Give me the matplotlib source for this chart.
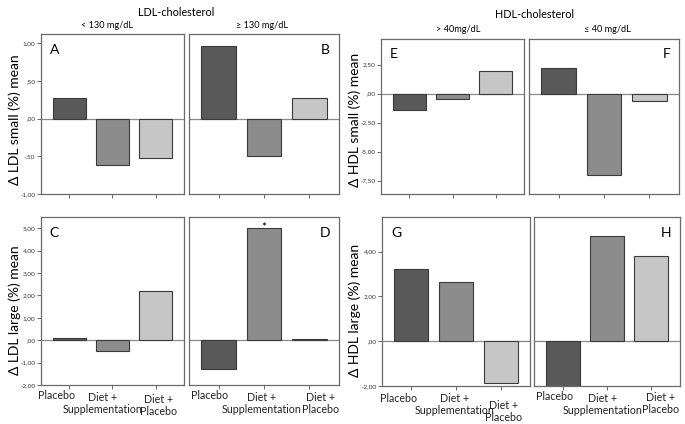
import matplotlib
matplotlib.use("Agg")
import matplotlib.pyplot as plt
from matplotlib.transforms import ScaledTranslation

plt.rcParams['font.family'] = ['Lato', 'DejaVu Sans']

groups = ["Placebo", "Diet +\nSupplementation", "Diet +\nPlacebo"]
colors = ["#595959", "#8c8c8c", "#c6c6c6"]

# values
ldl_small_lt130 = [0.27, -0.62, -0.52]
ldl_small_ge130 = [0.96, -0.49, 0.27]
ldl_large_lt130 = [0.10, -0.49, 2.18]
ldl_large_ge130 = [-1.27, 5.00, 0.07]
hdl_small_gt40 = [-1.38, -0.43, 1.93]
hdl_small_le40 = [2.19, -7.03, -0.66]
hdl_large_gt40 = [3.24, 2.65, -1.88]
hdl_large_le40 = [-2.00, 4.71, 3.81]

ticks_ldl_small = [1.0, 0.5, 0.0, -0.5, -1.0]
ticks_hdl_small = [2.5, 0.0, -2.5, -5.0, -7.5]
ticks_ldl_large = [5, 4, 3, 2, 1, 0, -1, -2]
ticks_hdl_large = [4, 2, 0, -2]

W, H = 685, 424
fig = plt.figure(figsize=(W / 100, H / 100), dpi=100)


def box(l, r, t, b):
    return [l / W, 1 - b / H, (r - l) / W, (b - t) / H]


def fmt(v):
    s = "%.2f" % v
    s = s.replace(".", ",")
    s = s.replace("0,", ",") if abs(v) < 1 else s
    return s


def panel(rect, vals, ylim, letter, left_side, yticks=None, shifts=None, star=None):
    ax = fig.add_axes(box(*rect))
    ax.bar(range(3), vals, width=0.76, color=colors, edgecolor="#3a3a3a", linewidth=0.8, zorder=2)
    ax.axhline(0, color="#8a8a8a", linewidth=0.9, zorder=1)
    ax.set_xlim(-0.65, 2.65)
    ax.set_ylim(*ylim)
    for sp in ax.spines.values():
        sp.set_color("#6a6a6a")
        sp.set_linewidth(0.9)
    ax.set_xticks(range(3))
    ax.tick_params(axis="x", length=3, width=0.6, color="#555555", pad=2)
    if shifts is not None:
        ax.set_xticklabels(groups, fontsize=7.7, color="#222222", linespacing=1.15)
        # labels in the original sit a little off their ticks
        for lab, (dx, dy) in zip(ax.get_xticklabels(), shifts):
            lab.set_transform(lab.get_transform() + ScaledTranslation(dx / 100, -dy / 100, fig.dpi_scale_trans))
    else:
        ax.set_xticklabels([])
    if yticks is not None:
        ax.set_yticks(yticks)
        ax.set_yticklabels([fmt(v) for v in yticks], fontsize=4.6, color="#333333")
        ax.tick_params(axis="y", length=3, width=0.6, color="#555555", pad=1)
    else:
        ax.set_yticks([])
    if left_side:
        ax.text(0.06, 0.94, letter, transform=ax.transAxes, fontsize=10, va="top", ha="left")
    else:
        ax.text(0.94, 0.94, letter, transform=ax.transAxes, fontsize=10, va="top", ha="right")
    if star is not None:
        ax.annotate("*", (star, vals[star]), xytext=(0, -3.5), textcoords="offset points",
                    ha="center", va="bottom", fontsize=8.5)
    return ax


panel((41, 184, 34, 194), ldl_small_lt130, (-1.0, 1.12), "A", True, ticks_ldl_small)
panel((189, 339, 34, 194), ldl_small_ge130, (-1.0, 1.12), "B", False)
panel((41, 184, 217, 385), ldl_large_lt130, (-2.0, 5.5), "C", True, ticks_ldl_large,
      shifts=[(-13, -2), (-10, 0), (3, 2)])
panel((189, 339, 217, 385), ldl_large_ge130, (-2.0, 5.5), "D", False,
      shifts=[(-9, -2), (-2, 0), (11, 0)], star=1)
panel((381, 524, 39, 194), hdl_small_gt40, (-8.65, 4.7), "E", True, ticks_hdl_small)
panel((529, 679, 39, 194), hdl_small_le40, (-8.65, 4.7), "F", False)
panel((382, 530, 217, 386), hdl_large_gt40, (-2.0, 5.54), "G", True, ticks_hdl_large,
      shifts=[(-13, 0), (-1, 0), (3, 7)])
panel((534, 680, 217, 386), hdl_large_le40, (-2.0, 5.54), "H", False,
      shifts=[(-8, -2), (-4, 0), (9, -1)])

# headers
fig.text(176 / W, 1 - 12 / H, "LDL-cholesterol", ha="center", va="center", fontsize=7.8)
fig.text(107 / W, 1 - 26 / H, "< 130 mg/dL", ha="center", va="center", fontsize=6.6)
fig.text(262 / W, 1 - 26 / H, "≥ 130 mg/dL", ha="center", va="center", fontsize=6.6)
fig.text(535 / W, 1 - 14 / H, "HDL-cholesterol", ha="center", va="center", fontsize=7.8)
fig.text(458 / W, 1 - 29 / H, "> 40mg/dL", ha="center", va="center", fontsize=6.6)
fig.text(607 / W, 1 - 29 / H, "≤ 40 mg/dL", ha="center", va="center", fontsize=6.6)

# y labels
fig.text(15 / W, 1 - 120 / H, "Δ LDL small (%) mean", rotation=90, ha="center", va="center", fontsize=10)
fig.text(15 / W, 1 - 310 / H, "Δ LDL large (%) mean", rotation=90, ha="center", va="center", fontsize=10)
fig.text(355 / W, 1 - 120 / H, "Δ HDL small (%) mean", rotation=90, ha="center", va="center", fontsize=10)
fig.text(355 / W, 1 - 310 / H, "Δ HDL large (%) mean", rotation=90, ha="center", va="center", fontsize=10)

fig.savefig("out.png", dpi=100)
